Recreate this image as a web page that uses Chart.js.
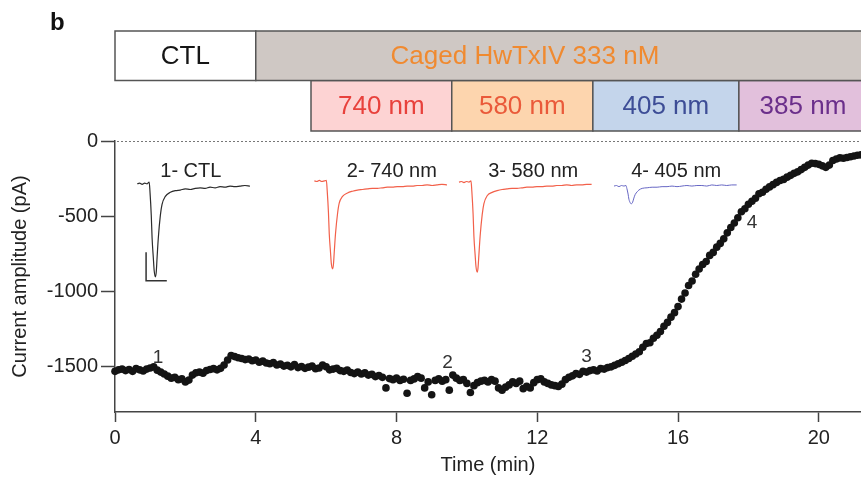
<!DOCTYPE html>
<html>
<head>
<meta charset="utf-8">
<script src="https://cdn.jsdelivr.net/npm/chart.js@4.4.1/dist/chart.umd.min.js"></script>
<style>
  html, body { margin: 0; padding: 0; background: #fff; overflow: hidden; }
  #wrap { width: 861px; height: 479px; position: relative; }
</style>
</head>
<body>
<div id="wrap"><canvas id="c" width="861" height="479"></canvas></div>
<script>
// Peak current amplitude over the recording (one sample every 6 s)
const timeMin = [
  0.0,0.1,0.2,0.3,0.4,0.5,0.6,0.7,0.8,0.9,1.0,1.1,1.2,1.3,1.4,1.5,1.6,1.7,1.8,1.9,
  2.0,2.1,2.2,2.3,2.4,2.5,2.6,2.7,2.8,2.9,3.0,3.1,3.2,3.3,3.4,3.5,3.6,3.7,3.8,3.9,
  4.0,4.1,4.2,4.3,4.4,4.5,4.6,4.7,4.8,4.9,5.0,5.1,5.2,5.3,5.4,5.5,5.6,5.7,5.8,5.9,
  6.0,6.1,6.2,6.3,6.4,6.5,6.6,6.7,6.8,6.9,7.0,7.1,7.2,7.3,7.4,7.5,7.6,7.7,7.8,7.9,
  8.0,8.1,8.2,8.3,8.4,8.5,8.6,8.7,8.8,8.9,9.0,9.1,9.2,9.3,9.4,9.5,9.6,9.7,9.8,9.9,
  10.0,10.1,10.2,10.3,10.4,10.5,10.6,10.7,10.8,10.9,11.0,11.1,11.2,11.3,11.4,11.5,11.6,11.7,11.8,11.9,
  12.0,12.1,12.2,12.3,12.4,12.5,12.6,12.7,12.8,12.9,13.0,13.1,13.2,13.3,13.4,13.5,13.6,13.7,13.8,13.9,
  14.0,14.1,14.2,14.3,14.4,14.5,14.6,14.7,14.8,14.9,15.0,15.1,15.2,15.3,15.4,15.5,15.6,15.7,15.8,15.9,
  16.0,16.1,16.2,16.3,16.4,16.5,16.6,16.7,16.8,16.9,17.0,17.1,17.2,17.3,17.4,17.5,17.6,17.7,17.8,17.9,
  18.0,18.1,18.2,18.3,18.4,18.5,18.6,18.7,18.8,18.9,19.0,19.1,19.2,19.3,19.4,19.5,19.6,19.7,19.8,19.9,
  20.0,20.1,20.2,20.3,20.4,20.5,20.6,20.7,20.8,20.9,21.0,21.1,21.2
];
const currentPA = [
  -1530,-1520,-1515,-1525,-1518,-1530,-1512,-1520,-1528,-1515,-1508,-1500,-1522,-1535,-1548,-1562,-1575,-1570,-1585,-1580,
  -1600,-1588,-1555,-1540,-1535,-1542,-1525,-1518,-1512,-1520,-1510,-1488,-1455,-1425,-1432,-1440,-1445,-1452,-1448,-1460,
  -1455,-1470,-1462,-1475,-1480,-1472,-1488,-1482,-1495,-1490,-1500,-1485,-1505,-1498,-1510,-1502,-1495,-1512,-1508,-1488,
  -1500,-1520,-1515,-1510,-1525,-1530,-1522,-1538,-1545,-1535,-1548,-1540,-1555,-1550,-1565,-1558,-1570,-1640,-1578,-1585,
  -1575,-1590,-1582,-1675,-1590,-1580,-1565,-1575,-1640,-1600,-1685,-1590,-1580,-1595,-1585,-1655,-1555,-1575,-1590,-1585,
  -1610,-1670,-1625,-1605,-1595,-1590,-1600,-1585,-1595,-1640,-1655,-1635,-1620,-1600,-1610,-1595,-1645,-1630,-1640,-1605,
  -1585,-1580,-1600,-1610,-1620,-1625,-1630,-1615,-1585,-1570,-1560,-1545,-1550,-1530,-1535,-1525,-1520,-1528,-1512,-1515,
  -1505,-1500,-1490,-1480,-1470,-1458,-1445,-1430,-1415,-1400,-1370,-1345,-1340,-1310,-1290,-1265,-1230,-1205,-1170,-1140,
  -1100,-1050,-1010,-960,-930,-885,-850,-820,-800,-760,-740,-705,-680,-650,-610,-575,-545,-510,-470,-450,
  -420,-400,-380,-350,-340,-320,-305,-290,-275,-262,-255,-240,-228,-215,-205,-190,-175,-160,-148,-150,
  -155,-165,-175,-160,-130,-120,-112,-115,-110,-105,-100,-95,-92
];

// Example current sweeps (time in ms from sweep start, current in nA)
const sweepMs = [0,0.6,1.2,1.8,2.4,2.9,3.1,3.4,3.6,3.9,4.1,4.4,4.6,4.8,5.1,5.6,6.0,6.8,8.0,9.2,
  10.4,11.6,12.8,14.0,15.2,16.4,17.6,18.8,20.0,21.2,22.4,23.6,24.8,26.0,27.2,28.4,29.6,30.8,32.0];
const traceCTL = [0.00,0.01,-0.01,0.01,0.00,0.03,-0.15,-0.55,-0.95,-1.30,-1.52,-1.63,-1.55,-1.30,-0.95,-0.55,-0.36,-0.22,-0.15,-0.12,
  -0.11,-0.09,-0.10,-0.08,-0.07,-0.08,-0.06,-0.07,-0.05,-0.06,-0.04,-0.05,-0.04,-0.03,-0.04,null,null,null,null];
const trace740 = [0.05,0.04,0.06,0.04,0.05,0.06,-0.12,-0.50,-0.88,-1.20,-1.40,-1.49,-1.42,-1.20,-0.88,-0.52,-0.34,-0.22,-0.16,-0.13,
  -0.11,-0.10,-0.09,-0.08,-0.08,-0.07,-0.06,-0.06,-0.05,-0.05,-0.04,-0.04,-0.03,-0.03,-0.02,-0.03,-0.02,-0.01,-0.02];
const trace580 = [0.03,0.04,0.02,0.04,0.03,0.05,-0.13,-0.52,-0.92,-1.25,-1.45,-1.55,-1.47,-1.25,-0.92,-0.54,-0.35,-0.21,-0.15,-0.12,
  -0.10,-0.09,-0.08,-0.08,-0.07,-0.06,-0.06,-0.05,-0.05,-0.04,-0.04,-0.03,-0.03,-0.02,-0.03,-0.02,-0.02,-0.01,-0.01];
const trace405 = [-0.04,-0.03,-0.05,-0.03,-0.04,-0.03,-0.08,-0.18,-0.27,-0.33,-0.35,-0.34,-0.30,-0.25,-0.19,-0.14,-0.11,-0.08,-0.07,-0.06,
  -0.06,-0.05,-0.05,-0.04,-0.05,-0.04,-0.03,-0.04,-0.03,-0.03,-0.04,-0.02,-0.03,-0.02,-0.03,-0.02,-0.02,null,null];
const traceNames = ['1- CTL', '2- 740 nm', '3- 580 nm', '4- 405 nm'];
const scaleBarMs = 5;
const scaleBarNA = 0.5;

// Numbered sampling points on the time course
const markNames = ['1', '2', '3', '4'];
const markTimes = [1.22, 9.45, 13.4, 18.1];
const markValues = [-1440, -1470, -1435, -545];

// Perfusion and illumination periods (min)
const phaseNames = ['CTL', 'Caged HwTxIV 333 nM'];
const phaseStart = [0, 4];
const phaseEnd = [4, 22];
const lightNames = ['740 nm', '580 nm', '405 nm', '385 nm'];
const lightStart = [5.57, 9.57, 13.58, 17.73];
const lightEnd = [9.57, 13.58, 17.73, 22];

const xTickValues = [0, 4, 8, 12, 16, 20];
const yTickValues = [-1500, -1000, -500, 0];

// ---- styling / layout ----
const FONT = '"Liberation Sans", Arial, Helvetica, sans-serif';
Chart.defaults.font.family = FONT;
const traceColors = ['#2b2b2b', '#f2604a', '#f2604a', '#6767c4'];
const traceWidths = [1.2, 1.2, 1.2, 1];
const sweepOffsetMs = [5.35, 48.1, 83.0, 120.4];
const traceLabelMs = [18.3, 66.8, 100.9, 135.4];
const traceLabelNA = 0.22;
const scaleBarAt = { x: 7.5, y: -1.7 };
const phaseFill = ['#ffffff', '#cfc8c4'];
const phaseText = ['#151515', '#f08a30'];
const phaseLabelAt = [2, 11.65];
const lightFill = ['#fdd3d3', '#fdd5ae', '#c4d5eb', '#e2c0dc'];
const lightText = ['#e8413c', '#ea5a3a', '#3d4d96', '#6b2f8b'];
const lightLabelAt = [7.57, 11.575, 15.655, 19.55];

const sweepDatasets = [traceCTL, trace740, trace580, trace405].map((vals, k) => ({
  type: 'line',
  xAxisID: 'xi', yAxisID: 'yi',
  data: sweepMs.map((t, i) => ({ x: t + sweepOffsetMs[k], y: vals[i] })),
  borderColor: traceColors[k],
  borderWidth: traceWidths[k],
  pointRadius: 0,
  cubicInterpolationMode: 'monotone',
  spanGaps: false,
  clip: false
}));

const scaleBarDataset = {
  type: 'line',
  xAxisID: 'xi', yAxisID: 'yi',
  data: [
    { x: scaleBarAt.x, y: scaleBarAt.y + scaleBarNA },
    { x: scaleBarAt.x, y: scaleBarAt.y },
    { x: scaleBarAt.x + scaleBarMs, y: scaleBarAt.y }
  ],
  borderColor: '#333',
  borderWidth: 1.5,
  pointRadius: 0,
  tension: 0,
  clip: false
};

const amplitudeDataset = {
  type: 'scatter',
  xAxisID: 'x', yAxisID: 'y',
  data: timeMin.map((t, i) => ({ x: t, y: currentPA[i] })),
  backgroundColor: '#141414',
  borderWidth: 0,
  pointRadius: 3.8,
  clip: false
};

const decorations = {
  id: 'decorations',
  beforeDatasetsDraw(chart) {
    const { ctx, chartArea, scales: { y } } = chart;
    const y0 = Math.round(y.getPixelForValue(0)) + 0.5;
    ctx.save();
    ctx.strokeStyle = '#777';
    ctx.lineWidth = 1;
    ctx.setLineDash([2, 2]);
    ctx.beginPath();
    ctx.moveTo(chartArea.left + 2, y0);
    ctx.lineTo(chart.width, y0);
    ctx.stroke();
    ctx.restore();
  },
  afterDatasetsDraw(chart) {
    const { ctx, scales: { x, y, xi, yi } } = chart;
    ctx.save();
    ctx.textAlign = 'center';
    ctx.textBaseline = 'middle';
    ctx.fillStyle = '#333';
    ctx.font = '19px ' + FONT;
    markNames.forEach((m, i) => {
      ctx.fillText(m, x.getPixelForValue(markTimes[i]), y.getPixelForValue(markValues[i]));
    });
    ctx.fillStyle = '#222';
    ctx.font = '20px ' + FONT;
    traceNames.forEach((n, i) => {
      ctx.fillText(n, xi.getPixelForValue(traceLabelMs[i]), yi.getPixelForValue(traceLabelNA));
    });
    ctx.restore();
  },
  afterDraw(chart) {
    const { ctx, scales: { x } } = chart;
    const W = chart.width;
    const px = v => Math.min(x.getPixelForValue(v), W + 5);
    ctx.save();
    ctx.lineWidth = 1.5;
    ctx.strokeStyle = '#555';
    ctx.textAlign = 'center';
    ctx.textBaseline = 'middle';
    ctx.font = '26px ' + FONT;
    const drawRow = (names, s, e, fills, texts, at, top, bottom) => {
      names.forEach((n, i) => {
        const x0 = px(s[i]), x1 = px(e[i]);
        ctx.fillStyle = fills[i];
        ctx.fillRect(x0, top, x1 - x0, bottom - top);
        ctx.strokeRect(x0, top, x1 - x0, bottom - top);
      });
      names.forEach((n, i) => {
        ctx.fillStyle = texts[i];
        ctx.fillText(n, x.getPixelForValue(at[i]), (top + bottom) / 2 + 1);
      });
    };
    drawRow(lightNames, lightStart, lightEnd, lightFill, lightText, lightLabelAt, 80.5, 131);
    drawRow(phaseNames, phaseStart, phaseEnd, phaseFill, phaseText, phaseLabelAt, 31, 80.5);
    ctx.fillStyle = '#111';
    ctx.textAlign = 'left';
    ctx.textBaseline = 'alphabetic';
    ctx.font = 'bold 24px ' + FONT;
    ctx.fillText('b', 50, 30);
    ctx.restore();
  }
};

new Chart(document.getElementById('c'), {
  data: { datasets: [amplitudeDataset, ...sweepDatasets, scaleBarDataset] },
  options: {
    responsive: false,
    animation: false,
    devicePixelRatio: 1,
    layout: { autoPadding: false, padding: { top: 141, left: 0, right: 0, bottom: 0 } },
    plugins: { legend: { display: false }, tooltip: { enabled: false } },
    scales: {
      x: {
        type: 'linear', position: 'bottom',
        min: 0, max: 21.2,
        afterBuildTicks: s => { s.ticks = xTickValues.map(v => ({ value: v })); },
        afterFit: s => { s.height = 67; s.paddingLeft = 0; s.paddingRight = 0; },
        ticks: { color: '#222', font: { size: 20 }, padding: 4, maxRotation: 0, autoSkip: false,
                 callback: v => String(v) },
        grid: { drawOnChartArea: false, drawTicks: true, tickLength: 10, tickColor: '#444', tickWidth: 1.5 },
        border: { display: true, color: '#444', width: 1.5 },
        title: { display: true, text: 'Time (min)', color: '#222', font: { size: 20 }, padding: { top: 0, bottom: 2 } }
      },
      y: {
        type: 'linear', position: 'left',
        min: -1800, max: 0,
        afterBuildTicks: s => { s.ticks = yTickValues.map(v => ({ value: v })); },
        afterFit: s => { s.width = 115; s.paddingTop = 0; s.paddingBottom = 0; },
        ticks: { color: '#222', font: { size: 20 }, padding: 3, autoSkip: false,
                 callback: v => String(v) },
        grid: { drawOnChartArea: false, drawTicks: true, tickLength: 14, tickColor: '#444', tickWidth: 1.5 },
        border: { display: true, color: '#444', width: 1.5 },
        title: { display: true, text: 'Current amplitude (pA)', color: '#222', font: { size: 20 }, padding: { top: 8, bottom: 0 } }
      },
      xi: { type: 'linear', display: false, min: 0, max: 180 },
      yi: { type: 'linear', display: false, min: -4, max: 0.75 }
    }
  },
  plugins: [decorations]
});
</script>
</body>
</html>
